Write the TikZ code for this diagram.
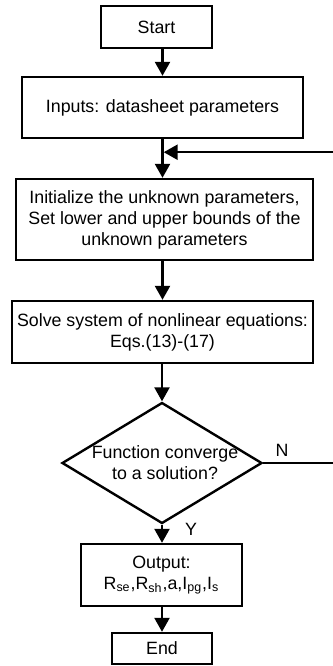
\documentclass[tikz,border=0pt]{standalone}
\usepackage{fontspec}
\setmainfont{Liberation Sans}
\usepackage{tikz}
\usetikzlibrary{shapes.geometric}
\usetikzlibrary{arrows.meta}
\usetikzlibrary{positioning}
\tikzset{
    block/.style={draw=black, rectangle, line width=1.2pt, inner sep=0pt, align=center,
        font=\fontsize{8.9}{10.5}\selectfont},
    decision/.style={draw=black, diamond, line width=1.2pt, inner sep=0pt,
        minimum width=100pt, minimum height=60.5pt},
    line/.style={draw, line width=1.2pt, -{Triangle[width=7.5pt,length=7pt]}},
    tag/.style={inner sep=0pt, align=center, font=\fontsize{8.9}{10.5}\selectfont},
}

\begin{document}
\begin{tikzpicture}[x=0.5pt, y=-0.5pt]
	\useasboundingbox (0,0) rectangle (333,666);
	\node[block, minimum width=55.5pt, minimum height=21pt] (start) at (156.5,27) {Start};
	\node[block, minimum width=140.5pt, minimum height=30.5pt] (inputs) at (162.5,107.5) {Inputs: datasheet parameters};
	\node[block, minimum width=148.5pt, minimum height=40.5pt] (init) at (164.5,219.5) {Initialize the unknown parameters,\\Set lower and upper bounds of the\\unknown parameters};
	\node[block, minimum width=150.5pt, minimum height=31pt] (solve) at (162.5,332) {Solve system of nonlinear equations:\\Eqs.(13)-(17)};
	\node[decision] (dec) at (162,463) {};
	\node[tag] (dectext) at (165,463) {Function converge\\to a solution?};
	\node[block, minimum width=80.5pt, minimum height=31pt] (output) at (161.5,575) {Output:\\R\textsubscript{se},R\textsubscript{sh},a,I\textsubscript{pg},I\textsubscript{s}};
	\node[block, minimum width=50pt, minimum height=15.5pt] (end) at (162,648.5) {End};
	\node[tag] (no) at (282,450) {N};
	\node[tag] (yes) at (191,529) {Y};
	\coordinate (join) at ([xshift=0.6pt,yshift=-6.5pt]inputs.south);
	\coordinate (rim) at (336,463);
	\path[line] (start.south -| inputs.north) -- (inputs.north);
	\path[line] (inputs.south) -- (inputs.south |- init.north);
	\path[line] (init.south -| inputs.south) -- (inputs.south |- solve.north);
	\path[line] (solve.south -| dec.north) -- (dec.north);
	\path[line] (dec.south) -- (dec.south |- output.north);
	\path[line] (output.south -| end.north) -- (end.north);
	\path[line] (dec.east) -- (rim) |- (join);
\end{tikzpicture}
\end{document}
